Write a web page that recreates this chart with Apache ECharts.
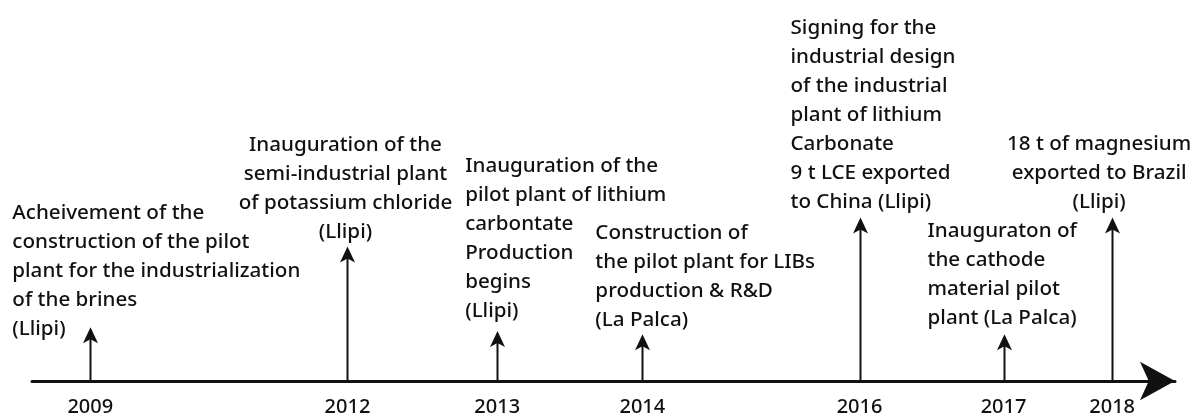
<!DOCTYPE html>
<html>
<head>
<meta charset="utf-8">
<script src="https://cdn.jsdelivr.net/npm/echarts@6/dist/echarts.min.js"></script>
<style>
html, body { margin: 0; padding: 0; background: #fff; }
#main { width: 1200px; height: 417px; }
</style>
</head>
<body>
<div id="main"></div>
<script>
// 时间轴数据
var years = ['2009', '2012', '2013', '2014', '2016', '2017', '2018'];
var positions = [5.1, 27.6, 40.7, 53.4, 72.4, 85.0, 94.5]; // 在时间轴上的位置 (0-100)
var stemHeights = [14.1, 35.3, 13.1, 12.3, 42.9, 12.3, 42.9]; // 箭头高度
var events = [
	'Acheivement of the\nconstruction of the pilot\nplant for the industrialization\nof the brines\n(Llipi)',
	'Inauguration of the\nsemi-industrial plant\nof potassium chloride\n(Llipi)',
	'Inauguration of the\npilot plant of lithium\ncarbontate\nProduction\nbegins\n(Llipi)',
	'Construction of\nthe pilot plant for LIBs\nproduction & R&D\n(La Palca)',
	'Signing for the\nindustrial design\nof the industrial\nplant of lithium\nCarbonate\n9 t LCE exported\nto China (Llipi)',
	'Inauguraton of\nthe cathode\nmaterial pilot\nplant (La Palca)',
	'18 t of magnesium\nexported to Brazil\n(Llipi)'
];

var FONT = '"Noto Sans", sans-serif';
var INK = '#111';

// 文字相对箭头顶点的摆放
var labelLayout = [
	{ align: 'left', dx: -78, dy: 16 },
	{ align: 'center', dx: -2, dy: 0 },
	{ align: 'left', dx: -32, dy: -5 },
	{ align: 'left', dx: -47, dy: 0 },
	{ align: 'left', dx: -69, dy: -1 },
	{ align: 'left', dx: -76, dy: -2 },
	{ align: 'center', dx: -13, dy: -1 }
];

var seriesData = [];
positions.map(function (p, i) {
	seriesData.push([p, stemHeights[i]]);
});

function renderItem(params, api) {
	var i = params.dataIndex;
	var base = api.coord([api.value(0), 0]);
	var top = api.coord([api.value(0), api.value(1)]);
	var lay = labelLayout[i];
	var x = Math.round(top[0]) + 0.5;
	return {
		type: 'group',
		children: [
			{
				type: 'line',
				shape: { x1: x, y1: base[1], x2: x, y2: top[1] + 10 },
				style: { stroke: INK, lineWidth: 2 }
			},
			{
				type: 'polygon',
				shape: {
					points: [[x, top[1]], [x + 7.5, top[1] + 16], [x, top[1] + 12], [x - 7.5, top[1] + 16]]
				},
				style: { fill: INK }
			},
			{
				type: 'text',
				x: top[0] + lay.dx,
				y: top[1] + lay.dy,
				style: {
					text: events[i],
					align: lay.align,
					verticalAlign: 'bottom',
					fontFamily: FONT,
					fontSize: 20.6,
					fontWeight: 500,
					lineHeight: 29,
					fill: INK
				}
			}
		]
	};
}

var myChart = echarts.init(document.getElementById('main'));
var option = {
	animation: false,
	grid: {
		left: 32,
		right: 25,
		top: 0,
		bottom: 35
	},
	xAxis: {
		type: 'value',
		min: 0,
		max: 100,
		splitLine: { show: false },
		axisTick: { show: false },
		axisLine: {
			lineStyle: { color: INK, width: 3 },
			symbol: ['none', 'arrow'],
			symbolSize: [29, 35]
		},
		axisLabel: {
			customValues: positions,
			margin: 16,
			fontFamily: FONT,
			fontSize: 20,
			fontWeight: 500,
			color: INK,
			formatter: function (val) {
				var best = 0;
				positions.map(function (p, i) {
					if (Math.abs(p - val) < Math.abs(positions[best] - val)) best = i;
				});
				return years[best];
			}
		}
	},
	yAxis: {
		type: 'value',
		min: 0,
		max: 100,
		show: false
	},
	series: [{
		type: 'custom',
		clip: false,
		renderItem: renderItem,
		encode: { x: 0, y: 1 },
		data: seriesData
	}]
};
myChart.setOption(option);
</script>
</body>
</html>
